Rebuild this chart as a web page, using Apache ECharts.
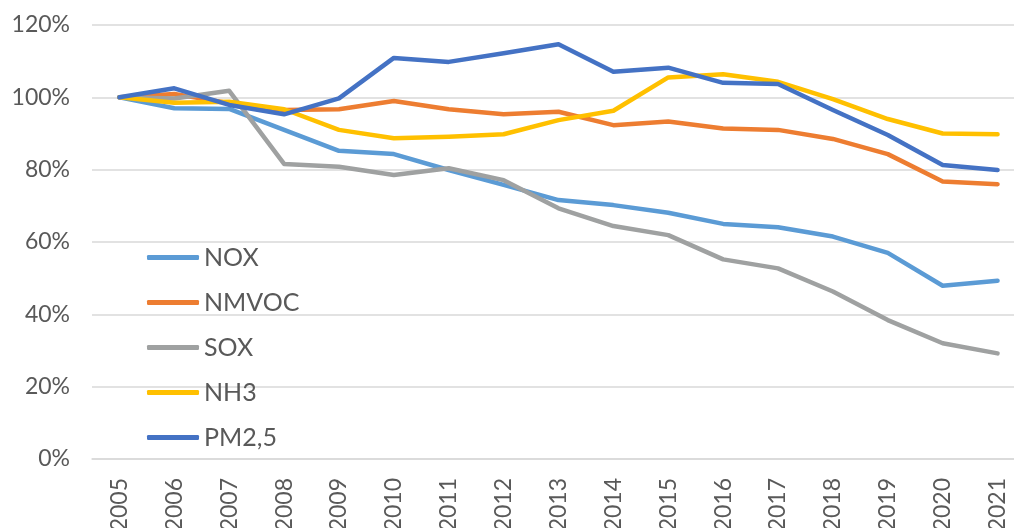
<!DOCTYPE html>
<html>
<head>
<meta charset="utf-8">
<script src="https://cdn.jsdelivr.net/npm/echarts@6/dist/echarts.min.js"></script>
<style>
  html, body { margin: 0; padding: 0; background: #fff; overflow: hidden; }
  #chart { width: 1025px; height: 528px; }
</style>
</head>
<body>
<div id="chart"></div>
<script>
// years on the x axis
const years = ['2005','2006','2007','2008','2009','2010','2011','2012','2013',
               '2014','2015','2016','2017','2018','2019','2020','2021'];

// index values, % of 2005
const nox   = [100, 97.0, 96.8, 91.0, 85.2, 84.3, 79.9, 75.8, 71.6, 70.2, 68.1, 65.0, 64.1, 61.5, 57.0, 47.9, 49.3];
const nmvoc = [100, 100.9, 98.4, 96.5, 96.7, 99.0, 96.7, 95.3, 96.0, 92.3, 93.3, 91.4, 91.0, 88.5, 84.3, 76.7, 76.0];
const sox   = [100, 99.7, 101.8, 81.6, 80.8, 78.5, 80.4, 77.1, 69.3, 64.4, 61.9, 55.2, 52.7, 46.3, 38.4, 32.0, 29.2];
const nh3   = [100, 98.5, 98.8, 96.7, 91.0, 88.7, 89.1, 89.8, 93.7, 96.3, 105.5, 106.4, 104.3, 99.5, 94.0, 90.0, 89.8];
const pm25  = [100, 102.5, 97.9, 95.3, 99.7, 110.9, 109.8, 112.2, 114.7, 107.1, 108.2, 104.0, 103.7, 96.5, 89.6, 81.3, 79.9];

const names = ['NOX', 'NMVOC', 'SOX', 'NH3', 'PM2,5'];
const colors = ['#5B9BD5', '#ED7D31', '#9FA1A1', '#FFC000', '#4472C4'];
const values = [nox, nmvoc, sox, nh3, pm25];

const chart = echarts.init(document.getElementById('chart'));

const font = 'Lato, "DejaVu Sans", sans-serif';

// the plot runs a bit past the right edge of the window, like the original crop;
// year labels are cut off at the bottom, so don't let them squeeze the grid
chart.setOption({
  animation: false,
  color: colors,
  textStyle: { fontFamily: font },
  grid: { left: 92, right: 0, top: 25, bottom: 69, containLabel: false, outerBoundsMode: 'none' },
  legend: {
    orient: 'vertical',
    left: 142,
    top: 240,
    icon: 'roundRect',
    itemWidth: 52,
    itemHeight: 5,
    itemGap: 20,
    textStyle: { fontSize: 25, color: '#595959', fontFamily: font },
    data: names
  },
  xAxis: {
    type: 'category',
    data: years,
    boundaryGap: true,
    axisLine: { lineStyle: { color: '#d9d9d9', width: 1.5 } },
    axisTick: { show: false },
    axisLabel: { rotate: 90, fontSize: 23, color: '#595959', margin: 19, interval: 0 }
  },
  yAxis: {
    type: 'value',
    min: 0,
    max: 120,
    interval: 20,
    axisLine: { show: false },
    axisTick: { show: false },
    axisLabel: { formatter: '{value}%', fontSize: 23, color: '#595959', margin: 22 },
    splitLine: { lineStyle: { color: '#d9d9d9', width: 1.5 } }
  },
  series: names.map((n, i) => ({
    name: n,
    type: 'line',
    data: values[i],
    showSymbol: false,
    symbol: 'none',
    lineStyle: { width: 4.5, cap: 'round', join: 'round' }
  }))
});
</script>
</body>
</html>
